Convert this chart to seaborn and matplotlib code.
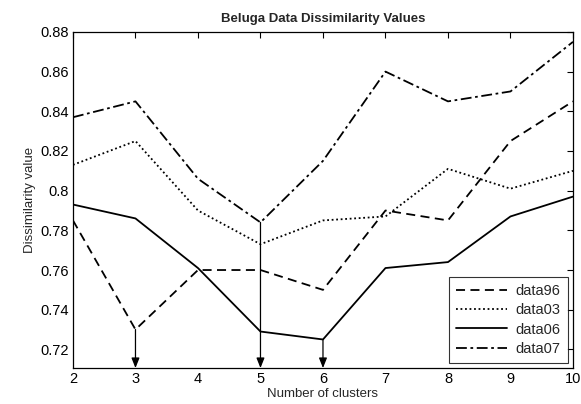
import matplotlib
matplotlib.use("Agg")
import matplotlib.pyplot as plt
import seaborn as sns
import pandas as pd

# cluster counts and dissimilarity values per dataset
clusters = [2, 3, 4, 5, 6, 7, 8, 9, 10]
data96 = [0.785, 0.730, 0.760, 0.760, 0.750, 0.790, 0.785, 0.825, 0.845]
data03 = [0.813, 0.825, 0.790, 0.773, 0.785, 0.787, 0.811, 0.801, 0.810]
data06 = [0.793, 0.786, 0.761, 0.729, 0.725, 0.761, 0.764, 0.787, 0.797]
data07 = [0.837, 0.845, 0.806, 0.784, 0.815, 0.860, 0.845, 0.850, 0.875]

# chosen cluster counts marked with arrows (x, series the arrow starts on)
arrows = [(3, data96), (5, data07), (6, data06)]

sns.set_theme(style="white")
plt.rcParams['font.family'] = ['Liberation Sans', 'DejaVu Sans']

fig = plt.figure(figsize=(5.81, 4.04), dpi=100)
ax = fig.add_axes([0.1256, 0.089, 0.8606, 0.832])

series = {"data96": (data96, (0, (5, 3))),
          "data03": (data03, (0, (1, 1.5))),
          "data06": (data06, "-"),
          "data07": (data07, (0, (6, 2, 1.5, 2)))}

for name, (vals, ls) in series.items():
    df = pd.DataFrame({"clusters": clusters, "value": vals})
    sns.lineplot(data=df, x="clusters", y="value", ax=ax, color="black",
                 linestyle=ls, linewidth=1.3, label=name)

ymin = 0.7106
for x, vals in arrows:
    y0 = vals[clusters.index(x)]
    ax.annotate("", xy=(x, ymin), xytext=(x, y0),
                arrowprops=dict(arrowstyle="-|>,head_length=0.5,head_width=0.2",
                                color="black", lw=0.9,
                                mutation_scale=12, shrinkA=0, shrinkB=0))

ax.set_xlim(2, 10)
ax.set_ylim(ymin, 0.88)
ax.set_xticks(clusters)
ax.set_yticks([0.72, 0.74, 0.76, 0.78, 0.8, 0.82, 0.84, 0.86, 0.88])
ax.set_yticklabels(["0.72", "0.74", "0.76", "0.78", "0.8", "0.82", "0.84", "0.86", "0.88"])
ax.tick_params(direction="in", top=True, right=True, length=4, width=0.8,
               labelsize=10.5, colors="black", pad=3)
for sp in ax.spines.values():
    sp.set_color("black")
    sp.set_linewidth(0.9)

ax.set_xlabel("Number of clusters", fontsize=9.5, labelpad=1)
ax.set_ylabel("Dissimilarity value", fontsize=9.5, labelpad=3)
ax.set_title("Beluga Data Dissimilarity Values", fontsize=9.5, fontweight="bold", pad=7)

leg = ax.legend(loc="lower right", fontsize=10.5, frameon=True, fancybox=False,
                edgecolor="black", handlelength=3.5, borderaxespad=0.35,
                labelspacing=0.35, handletextpad=0.6, borderpad=0.5)
leg.get_frame().set_linewidth(0.8)

fig.savefig("out.png", dpi=100)
